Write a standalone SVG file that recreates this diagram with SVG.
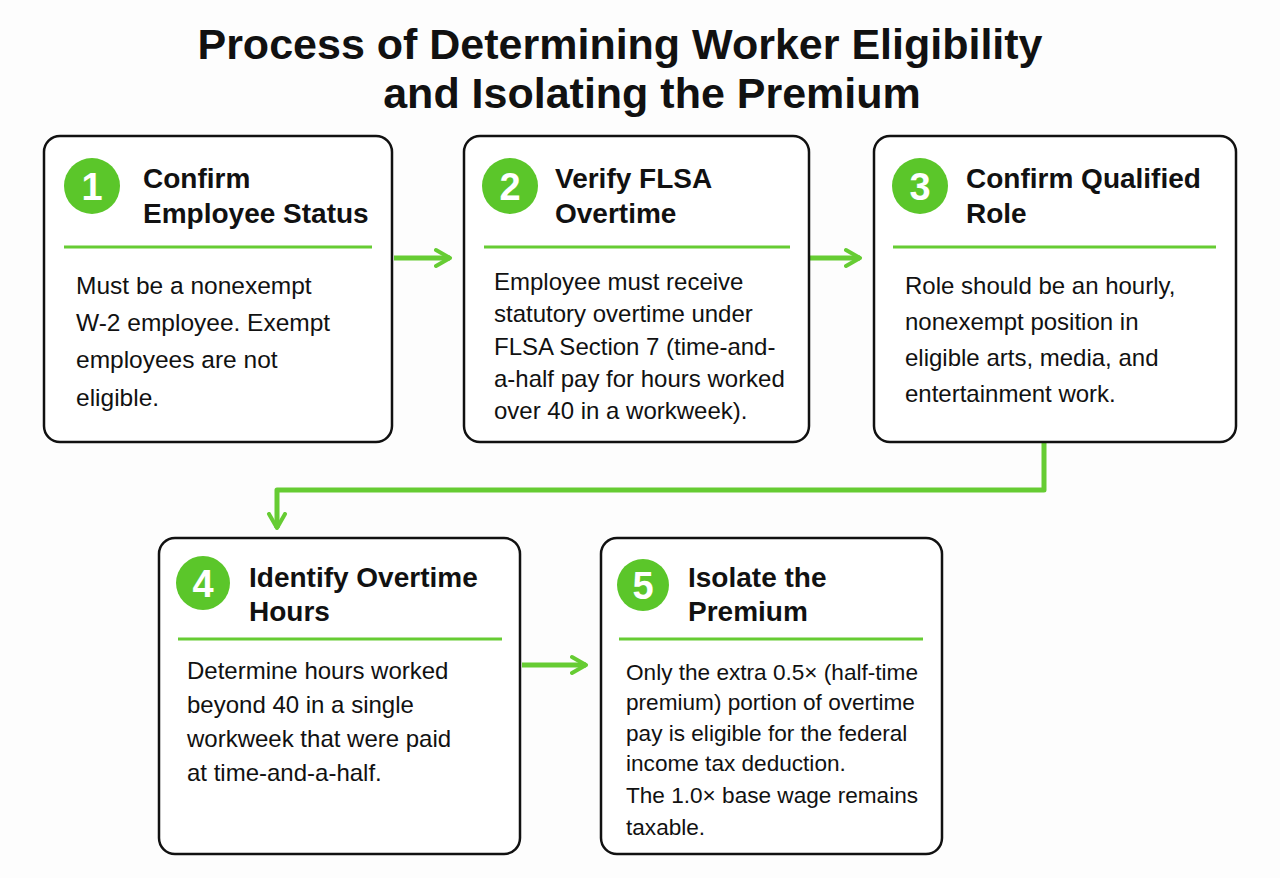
<svg xmlns="http://www.w3.org/2000/svg" width="1280" height="878" viewBox="0 0 1280 878">
<defs>
<style>
.box{fill:#fff;stroke:#111;stroke-width:2.5}
.div{stroke:#66cc33;stroke-width:3}
.circ{fill:#5bc62a}
.num{font-family:"Liberation Sans",Arial,sans-serif;font-weight:bold;font-size:38px;fill:#fff;text-anchor:middle}
.ttl{font-family:"Liberation Sans",Arial,sans-serif;font-weight:bold;font-size:28px;fill:#111}
.body{font-family:"Liberation Sans",Arial,sans-serif;font-size:24px;fill:#111}
.b5{font-size:22.6px}
.head{font-family:"Liberation Sans",Arial,sans-serif;font-weight:bold;font-size:43px;fill:#111;text-anchor:middle}
.con{fill:none;stroke:#66cc33;stroke-width:5;stroke-linejoin:round}
</style>
<marker id="ah" viewBox="0 0 10 10" refX="8" refY="5" markerWidth="4" markerHeight="5" orient="auto" markerUnits="strokeWidth">
<path d="M1,1 L8,5 L1,9" fill="none" stroke="#66cc33" stroke-width="2" stroke-linecap="round" stroke-linejoin="round"/>
</marker>
</defs>
<rect width="1280" height="878" fill="#fdfdfd"/>
<g id="title">
<text class="head" x="620" y="59">Process of Determining Worker Eligibility</text>
<text class="head" x="652" y="108">and Isolating the Premium</text>
</g>
<g id="connectors">
<path class="con" d="M394,258 H450" marker-end="url(#ah)"/>
<path class="con" d="M810,258 H860" marker-end="url(#ah)"/>
<path class="con" d="M1044,443 V490 H277 V528" marker-end="url(#ah)"/>
<path class="con" d="M522,665 H586" marker-end="url(#ah)"/>
</g>
<g id="node1">
<rect class="box" x="44" y="136" width="348" height="306" rx="16"/>
<circle class="circ" cx="92" cy="186" r="28"/>
<text class="num" x="92" y="200">1</text>
<text class="ttl" x="143" y="188">Confirm</text>
<text class="ttl" x="143" y="223">Employee Status</text>
<line class="div" x1="64" y1="247" x2="372" y2="247"/>
<text class="body" style="font-size:24.5px"><tspan x="76" y="294">Must be a nonexempt</tspan><tspan x="76" y="331">W-2 employee. Exempt</tspan><tspan x="76" y="368">employees are not</tspan><tspan x="76" y="406">eligible.</tspan></text>
</g>
<g id="node2">
<rect class="box" x="464" y="136" width="345" height="306" rx="16"/>
<circle class="circ" cx="510" cy="186" r="28"/>
<text class="num" x="510" y="200">2</text>
<text class="ttl" x="555" y="188">Verify FLSA</text>
<text class="ttl" x="555" y="223">Overtime</text>
<line class="div" x1="484" y1="247" x2="790" y2="247"/>
<text class="body"><tspan x="494" y="290">Employee must receive</tspan><tspan x="494" y="322">statutory overtime under</tspan><tspan x="494" y="355">FLSA Section 7 (time-and-</tspan><tspan x="494" y="387">a-half pay for hours worked</tspan><tspan x="494" y="419">over 40 in a workweek).</tspan></text>
</g>
<g id="node3">
<rect class="box" x="874" y="136" width="362" height="306" rx="16"/>
<circle class="circ" cx="920" cy="186" r="28"/>
<text class="num" x="920" y="200">3</text>
<text class="ttl" x="966" y="188">Confirm Qualified</text>
<text class="ttl" x="966" y="223">Role</text>
<line class="div" x1="893" y1="247" x2="1216" y2="247"/>
<text class="body"><tspan x="905" y="294">Role should be an hourly,</tspan><tspan x="905" y="330">nonexempt position in</tspan><tspan x="905" y="366">eligible arts, media, and</tspan><tspan x="905" y="402">entertainment work.</tspan></text>
</g>
<g id="node4">
<rect class="box" x="159" y="538" width="361" height="316" rx="16"/>
<circle class="circ" cx="203" cy="583" r="27"/>
<text class="num" x="203" y="597">4</text>
<text class="ttl" x="249" y="587">Identify Overtime</text>
<text class="ttl" x="249" y="621">Hours</text>
<line class="div" x1="178" y1="639" x2="502" y2="639"/>
<text class="body"><tspan x="187" y="679">Determine hours worked</tspan><tspan x="187" y="713">beyond 40 in a single</tspan><tspan x="187" y="747">workweek that were paid</tspan><tspan x="187" y="781">at time-and-a-half.</tspan></text>
</g>
<g id="node5">
<rect class="box" x="601" y="538" width="341" height="316" rx="16"/>
<circle class="circ" cx="643" cy="585" r="26"/>
<text class="num" x="643" y="599">5</text>
<text class="ttl" x="688" y="587">Isolate the</text>
<text class="ttl" x="688" y="621">Premium</text>
<line class="div" x1="619" y1="639" x2="923" y2="639"/>
<text class="body b5"><tspan x="626" y="680">Only the extra 0.5× (half-time</tspan><tspan x="626" y="710">premium) portion of overtime</tspan><tspan x="626" y="741">pay is eligible for the federal</tspan><tspan x="626" y="771">income tax deduction.</tspan><tspan x="626" y="803">The 1.0× base wage remains</tspan><tspan x="626" y="835">taxable.</tspan></text>
</g>
</svg>
